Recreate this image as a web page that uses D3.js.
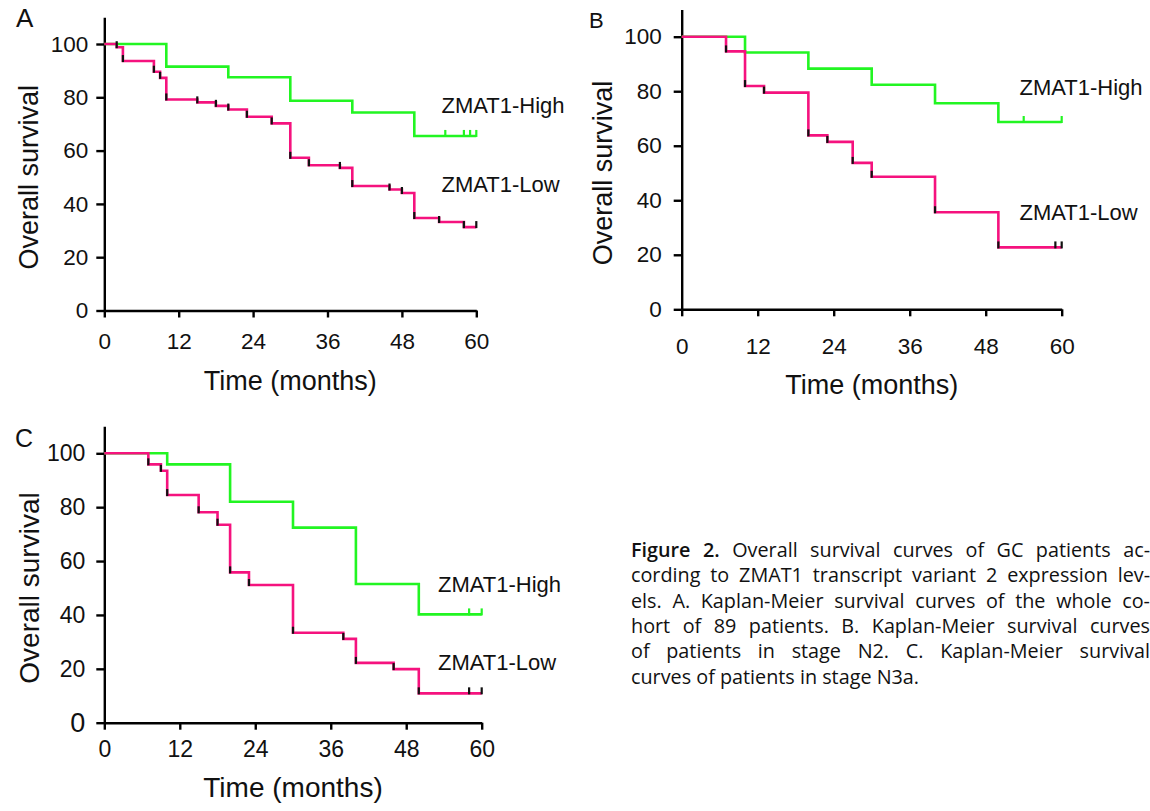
<!DOCTYPE html>
<html>
<head>
<meta charset="utf-8">
<script src="https://cdn.jsdelivr.net/npm/d3@7"></script>
<style>
  html, body { margin: 0; padding: 0; background: #fff; }
  svg { display: block; }
</style>
</head>
<body>
<svg id="fig" width="1150" height="811"></svg>
<script>
// ---------- data ----------
const monthTicks = [0, 12, 24, 36, 48, 60];
const survivalTicks = [0, 20, 40, 60, 80, 100];
const seriesNames = ["ZMAT1-High", "ZMAT1-Low"];

// Panel A (whole cohort)
const aHighTimes  = [0, 10, 20, 30, 40, 50, 60];
const aHighValues = [100, 91.5, 87.5, 78.7, 74.3, 65.5, 65.5];
const aHighCensor = [55, 58, 59, 60];
const aLowTimes   = [0, 2, 3, 8, 9, 10, 15, 18, 20, 23, 27, 30, 33, 38, 40, 46, 48, 50, 54, 58, 60];
const aLowValues  = [100, 98.8, 93.6, 89.6, 87.3, 79.2, 78.1, 76.8, 75.4, 72.7, 70.2, 57.3, 54.5, 53.5, 46.7, 45.4, 44.1, 34.7, 33.2, 31.3, 31.3];
const aLowCensor  = [60];

// Panel B (stage N2)
const bHighTimes  = [0, 10, 20, 30, 40, 50, 60];
const bHighValues = [100, 94.2, 88.3, 82.4, 75.6, 68.7, 68.7];
const bHighCensor = [54, 60];
const bLowTimes   = [0, 7, 10, 13, 20, 23, 27, 30, 40, 50, 60];
const bLowValues  = [100, 94.6, 81.9, 79.5, 63.8, 61.4, 53.7, 48.6, 35.6, 22.7, 22.7];
const bLowCensor  = [59, 60];

// Panel C (stage N3a)
const cHighTimes  = [0, 10, 20, 30, 40, 50, 60];
const cHighValues = [100, 95.9, 82.0, 72.4, 51.5, 40.2, 40.2];
const cHighCensor = [58, 60];
const cLowTimes   = [0, 7, 9, 10, 15, 18, 20, 23, 30, 38, 40, 46, 50, 60];
const cLowValues  = [100, 95.9, 93.5, 84.5, 78.1, 73.5, 55.8, 51.1, 33.4, 31.1, 22.2, 19.9, 10.9, 10.9];
const cLowCensor  = [58, 60];

const captionBold = "Figure 2.";
const captionLines = [
  " Overall survival curves of GC patients ac-",
  "cording to ZMAT1 transcript variant 2 expression lev-",
  "els. A. Kaplan-Meier survival curves of the whole co-",
  "hort of 89 patients. B. Kaplan-Meier survival curves",
  "of patients in stage N2. C. Kaplan-Meier survival",
  "curves of patients in stage N3a."
];

// ---------- styling / layout ----------
const GREEN = "#22f522";
const PINK = "#f5127e";
const FONT = "Arial, 'Liberation Sans', sans-serif";
const svg = d3.select("#fig");

const panels = [
  { letter: "A", letterX: 16, letterY: 27, letterSize: 26,
    x0: 104.3, x1: 476.3, y0: 310.5, y100: 44,
    tickFont: 22.5, yLabelGap: 8, zeroFont: 22.5,
    xLabelPad: 16, xTitleY: 389.5, yTitleX: 38, titleSize: 27,
    legX: 441.5, legHighY: 113, legLowY: 191.5,
    high: [aHighTimes, aHighValues, aHighCensor], low: [aLowTimes, aLowValues, aLowCensor] },
  { letter: "B", letterX: 589, letterY: 28, letterSize: 22,
    x0: 681.7, x1: 1061.7, y0: 309.3, y100: 36.7,
    tickFont: 22.5, yLabelGap: 12, zeroFont: 22.5,
    xLabelPad: 22, xTitleY: 394, yTitleX: 612, titleSize: 27,
    legX: 1019.5, legHighY: 95, legLowY: 220,
    high: [bHighTimes, bHighValues, bHighCensor], low: [bLowTimes, bLowValues, bLowCensor] },
  { letter: "C", letterX: 15, letterY: 447, letterSize: 25,
    x0: 104.3, x1: 481.7, y0: 722.7, y100: 453.3,
    tickFont: 23, yLabelGap: 11, zeroFont: 27,
    xLabelPad: 11, xTitleY: 797, yTitleX: 39, titleSize: 28,
    legX: 438, legHighY: 591.5, legLowY: 670,
    high: [cHighTimes, cHighValues, cHighCensor], low: [cLowTimes, cLowValues, cLowCensor] }
];

function stepValueAt(times, values, t) {
  let v = values[0];
  for (let i = 0; i < times.length; i++) if (times[i] <= t) v = values[i];
  return v;
}

panels.forEach(p => {
  const g = svg.append("g");
  const x = d3.scaleLinear().domain([0, 60]).range([p.x0, p.x1]);
  const pxPerUnit = (p.y0 - p.y100) / 100;
  const y = d3.scaleLinear().domain([0, 110]).range([p.y0, p.y0 - 110 * pxPerUnit]);

  // axes
  const yAxis = g.append("g").attr("transform", `translate(${p.x0},0)`)
    .call(d3.axisLeft(y).tickValues(survivalTicks).tickSize(8).tickSizeOuter(0).tickPadding(p.yLabelGap));
  const xAxis = g.append("g").attr("transform", `translate(0,${p.y0})`)
    .call(d3.axisBottom(x).tickValues(monthTicks).tickSize(7).tickSizeOuter(0).tickPadding(p.xLabelPad));
  [yAxis, xAxis].forEach(ax => {
    ax.selectAll("path, line").attr("stroke", "#000").attr("stroke-width", 2.4);
    ax.selectAll("text").attr("fill", "#111").style("font-family", FONT).style("font-size", p.tickFont + "px");
  });
  yAxis.selectAll(".tick text").filter(d => d === 0).style("font-size", p.zeroFont + "px");

  // titles
  g.append("text").attr("x", p.letterX).attr("y", p.letterY).text(p.letter)
    .style("font-family", FONT).style("font-size", p.letterSize + "px").attr("fill", "#111");
  g.append("text").attr("x", (p.x0 + p.x1) / 2).attr("y", p.xTitleY).attr("text-anchor", "middle")
    .text("Time (months)").style("font-family", FONT).style("font-size", p.titleSize + "px").attr("fill", "#111");
  g.append("text").attr("transform", `translate(${p.yTitleX},${y(50)})rotate(-90)`)
    .attr("text-anchor", "middle").text("Overall survival")
    .style("font-family", FONT).style("font-size", p.titleSize + "px").attr("fill", "#111");

  const line = d3.line().x(d => x(d[0])).y(d => y(d[1])).curve(d3.curveStepAfter);

  function drawSeries(spec, color, markColor, eventMarks) {
    const [times, values, censor] = spec;
    const pts = times.map((t, i) => [t, values[i]]);
    g.append("path").attr("d", line(pts)).attr("fill", "none")
      .attr("stroke", color).attr("stroke-width", 2.6);
    if (eventMarks) {
      times.forEach((t, i) => {
        if (i > 0 && values[i] < values[i - 1]) {
          g.append("line").attr("x1", x(t)).attr("x2", x(t))
            .attr("y1", y(values[i]) + 1).attr("y2", y(values[i]) - 6)
            .attr("stroke", "#111").attr("stroke-width", 2.2);
        }
      });
    }
    censor.forEach(t => {
      const v = stepValueAt(times, values, t);
      g.append("line").attr("x1", x(t)).attr("x2", x(t))
        .attr("y1", y(v) + 1).attr("y2", y(v) - 6)
        .attr("stroke", markColor).attr("stroke-width", 2.2);
    });
  }
  drawSeries(p.high, GREEN, GREEN, false);
  drawSeries(p.low, PINK, "#111", true);

  // direct labels
  g.append("text").attr("x", p.legX).attr("y", p.legHighY).text(seriesNames[0])
    .style("font-family", FONT).style("font-size", "22px").attr("fill", "#111");
  g.append("text").attr("x", p.legX).attr("y", p.legLowY).text(seriesNames[1])
    .style("font-family", FONT).style("font-size", "22px").attr("fill", "#111");
});

// ---------- caption ----------
const capX = 631, capRight = 1150, capY0 = 557, capDY = 25.3;
const CAPFONT = "'Open Sans', 'Noto Sans', sans-serif";
captionLines.forEach((txt, i) => {
  const t = svg.append("text").attr("x", capX).attr("y", capY0 + i * capDY)
    .style("font-family", CAPFONT).style("font-size", "19.8px").attr("fill", "#111");
  if (i === 0) {
    t.append("tspan").style("font-weight", "600").text(captionBold);
  }
  t.append("tspan").text(txt);
  if (i < captionLines.length - 1) {
    const full = (i === 0 ? captionBold : "") + txt;
    const spaces = (full.trim().match(/ /g) || []).length;
    const w = t.node().getComputedTextLength();
    if (spaces > 0) t.style("word-spacing", ((capRight - capX - w) / spaces) + "px");
  }
});
</script>
</body>
</html>
